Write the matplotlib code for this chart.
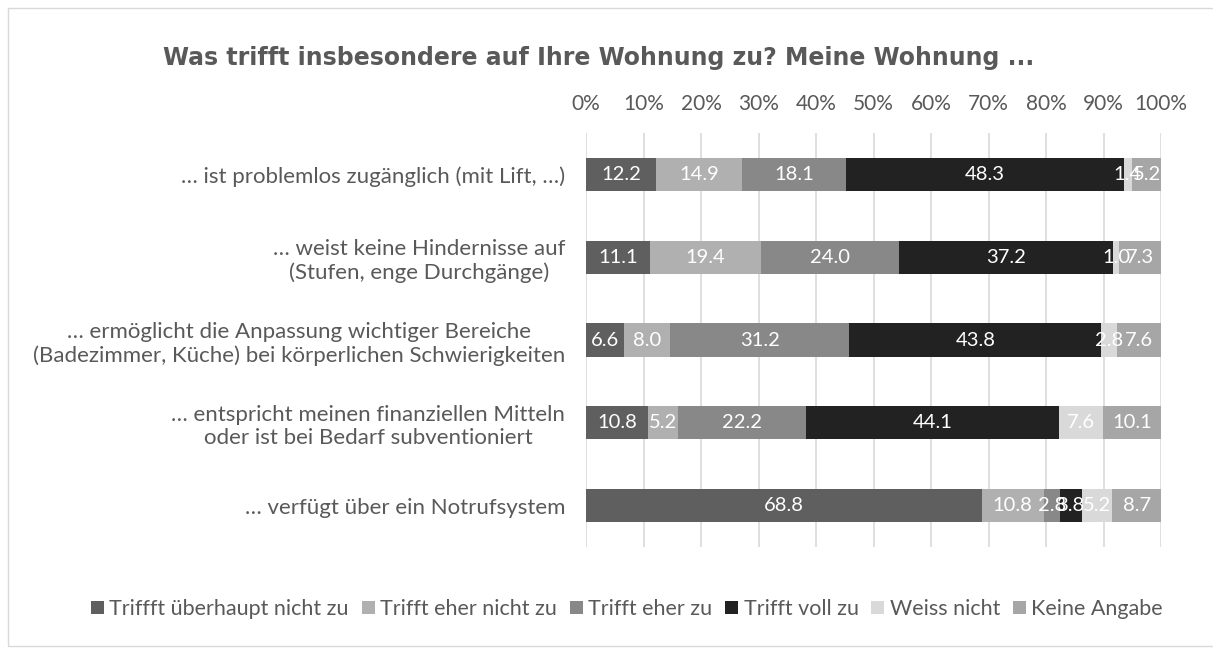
import matplotlib.pyplot as plt
from matplotlib.patches import Rectangle
import numpy as np

plt.rcParams['font.family'] = ['Lato', 'DejaVu Sans']

categories = [
    '… ist problemlos zugänglich (mit Lift, …)',
    '… weist keine Hindernisse auf\n(Stufen, enge Durchgänge)',
    '… ermöglicht die Anpassung wichtiger Bereiche\n(Badezimmer, Küche) bei körperlichen Schwierigkeiten',
    '… entspricht meinen finanziellen Mitteln\noder ist bei Bedarf subventioniert',
    '… verfügt über ein Notrufsystem',
]
series = ['Triffft überhaupt nicht zu', 'Trifft eher nicht zu', 'Trifft eher zu',
          'Trifft voll zu', 'Weiss nicht', 'Keine Angabe']
ueberhaupt_nicht = [12.2, 11.1, 6.6, 10.8, 68.8]
eher_nicht = [14.9, 19.4, 8.0, 5.2, 10.8]
eher_zu = [18.1, 24.0, 31.2, 22.2, 2.8]
voll_zu = [48.3, 37.2, 43.8, 44.1, 3.8]
weiss_nicht = [1.4, 1.0, 2.8, 7.6, 5.2]
keine_angabe = [5.2, 7.3, 7.6, 10.1, 8.7]
values = [ueberhaupt_nicht, eher_nicht, eher_zu, voll_zu, weiss_nicht, keine_angabe]
colors = ['#5f5f5f', '#b0b0b0', '#888888', '#222222', '#d9d9d9', '#a6a6a6']

fig = plt.figure(figsize=(12.13, 6.48), dpi=100)
ax = fig.add_axes([586 / 1213, 1 - 547 / 648, 575 / 1213, 414 / 648])

y = np.arange(len(categories))
left = np.zeros(len(categories))
for name, vals, col in zip(series, values, colors):
    vals = np.array(vals)
    ax.barh(y, vals, left=left, height=0.4, color=col, label=name, zorder=3)
    for yi, l, v in zip(y, left, vals):
        ax.text(l + v / 2, yi, f'{v:.1f}', ha='center', va='center',
                color='white', fontsize=14.5, zorder=4)
    left += vals

ax.set_xlim(0, 100)
ax.set_ylim(len(categories) - 0.5, -0.5)
ax.set_xticks(np.arange(0, 101, 10))
ax.set_xticklabels([f'{t}%' for t in range(0, 101, 10)], fontsize=15, color='#595959')
ax.xaxis.tick_top()
ax.tick_params(axis='x', length=0, pad=14)
ax.set_yticks(y)
ax.set_yticklabels(categories, fontsize=16, color='#595959', ha='right',
                   multialignment='center', linespacing=1.2)
ax.tick_params(axis='y', length=0, pad=15)
ax.grid(axis='x', color='#d9d9d9', linewidth=1.2, zorder=0)
for s in ax.spines.values():
    s.set_visible(False)

fig.text(599 / 1213, 1 - 58 / 648, 'Was trifft insbesondere auf Ihre Wohnung zu? Meine Wohnung ...',
         ha='center', va='center', fontsize=17, fontweight='bold', color='#595959',
         family='DejaVu Sans')

fig.legend(loc='center', bbox_to_anchor=(627 / 1213, 1 - 609 / 648), ncol=6, frameon=False,
           fontsize=15.5, labelcolor='#595959', handlelength=0.6, handleheight=0.6,
           handletextpad=0.25, columnspacing=0.6)

fig.patches.append(Rectangle((8 / 1213, 0.003), 1.0, 1 - 8 / 648 - 0.003,
                             transform=fig.transFigure, fill=False,
                             edgecolor='#d9d9d9', linewidth=1))

fig.savefig('out.png', dpi=100)
